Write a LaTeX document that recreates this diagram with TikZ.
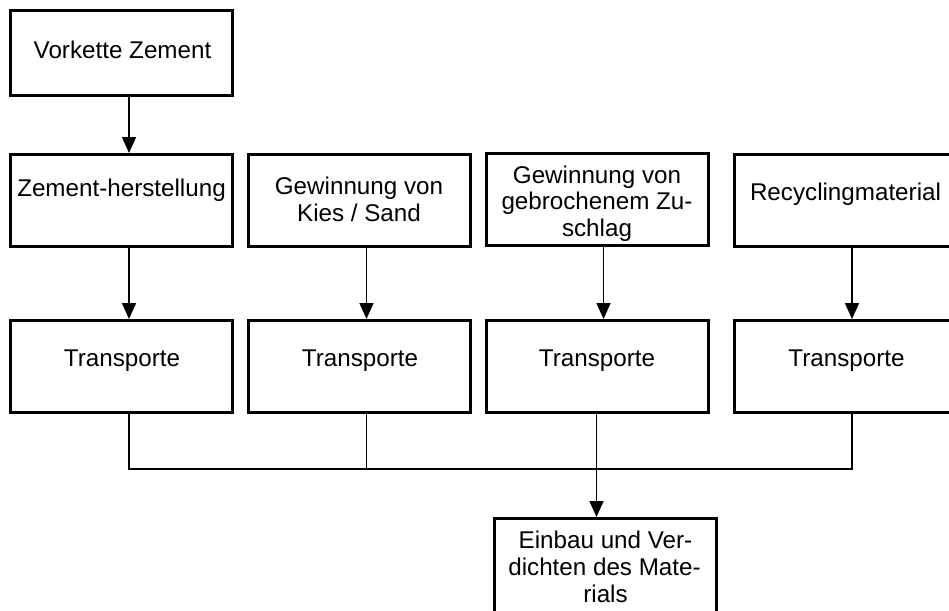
\documentclass[tikz,border=0pt]{standalone}
\usepackage{fontspec}
\setmainfont{Liberation Sans}
\usetikzlibrary{arrows.meta}
\begin{document}
\begin{tikzpicture}[x=1pt,y=-1pt,
  box/.style={draw=black,line width=3pt,rectangle,inner sep=0pt,minimum width=222pt,minimum height=92pt},
  txt/.style={anchor=base,inner sep=0pt,font=\fontsize{24.2}{27}\selectfont},
  conn/.style={line width=1.7pt},
  arr/.style={line width=1.7pt,-{Triangle[length=16pt,width=14pt]}}]
\useasboundingbox[fill=white] (0,0) rectangle (949,610);
% boxes
\node[box,minimum height=85pt] (v) at (121.5,53) {};
\node[box] (z) at (121.5,200.5) {};
\node[box] (k) at (359,200) {};
\node[box] (g) at (597,199) {};
\node[box] (r) at (845.5,200) {};
\node[box] (t1) at (121.5,366.5) {};
\node[box] (t2) at (359.5,366.5) {};
\node[box] (t3) at (597,366.5) {};
\node[box] (t4) at (845.5,366.5) {};
\node[box,minimum height=96pt] (e) at (605.5,566.5) {};
% texts
\node[txt] (vt) at (122.5,59) {Vorkette Zement};
\node[txt] (zt) at (121.5,196) {Zement-herstellung};
\node[txt] (kt1) at (359,194.5) {Gewinnung von};
\node[txt] (kt2) at (359,221.5) {Kies / Sand};
\node[txt] (gt1) at (597,183) {Gewinnung von};
\node[txt] (gt2) at (597,209.5) {gebrochenem Zu-};
\node[txt] (gt3) at (597,236) {schlag};
\node[txt] (rt) at (845.5,200) {Recyclingmaterial};
\node[txt] (tt1) at (122,366) {Transporte};
\node[txt] (tt2) at (360,366) {Transporte};
\node[txt] (tt3) at (597,366) {Transporte};
\node[txt] (tt4) at (846.5,366) {Transporte};
\node[txt] (et1) at (605.5,548) {Einbau und Ver-};
\node[txt] (et2) at (604.5,575) {dichten des Mate-};
\node[txt] (et3) at (605.5,602) {rials};
% column coordinates
\coordinate (c1) at (129,0);
\coordinate (c2) at (366.5,0);
\coordinate (c3) at (603.5,0);
\coordinate (c3b) at (596.5,0);
\coordinate (c4) at (852,0);
\coordinate (hy) at (0,469);
% arrows
\draw[arr] (v.south -| c1) -- (z.north -| c1);
\draw[arr] (z.south -| c1) -- (t1.north -| c1);
\draw[arr] (k.south -| c2) -- (t2.north -| c2);
\draw[arr] (g.south -| c3) -- (t3.north -| c3);
\draw[arr] (r.south -| c4) -- (t4.north -| c4);
% collector
\draw[conn] (t1.south -| c1) -- (hy -| c1) -- (hy -| c4) -- (t4.south -| c4);
\draw[conn] (t2.south -| c2) -- (hy -| c2);
\draw[arr] (t3.south -| c3b) -- (e.north -| c3b);
\end{tikzpicture}
\end{document}
